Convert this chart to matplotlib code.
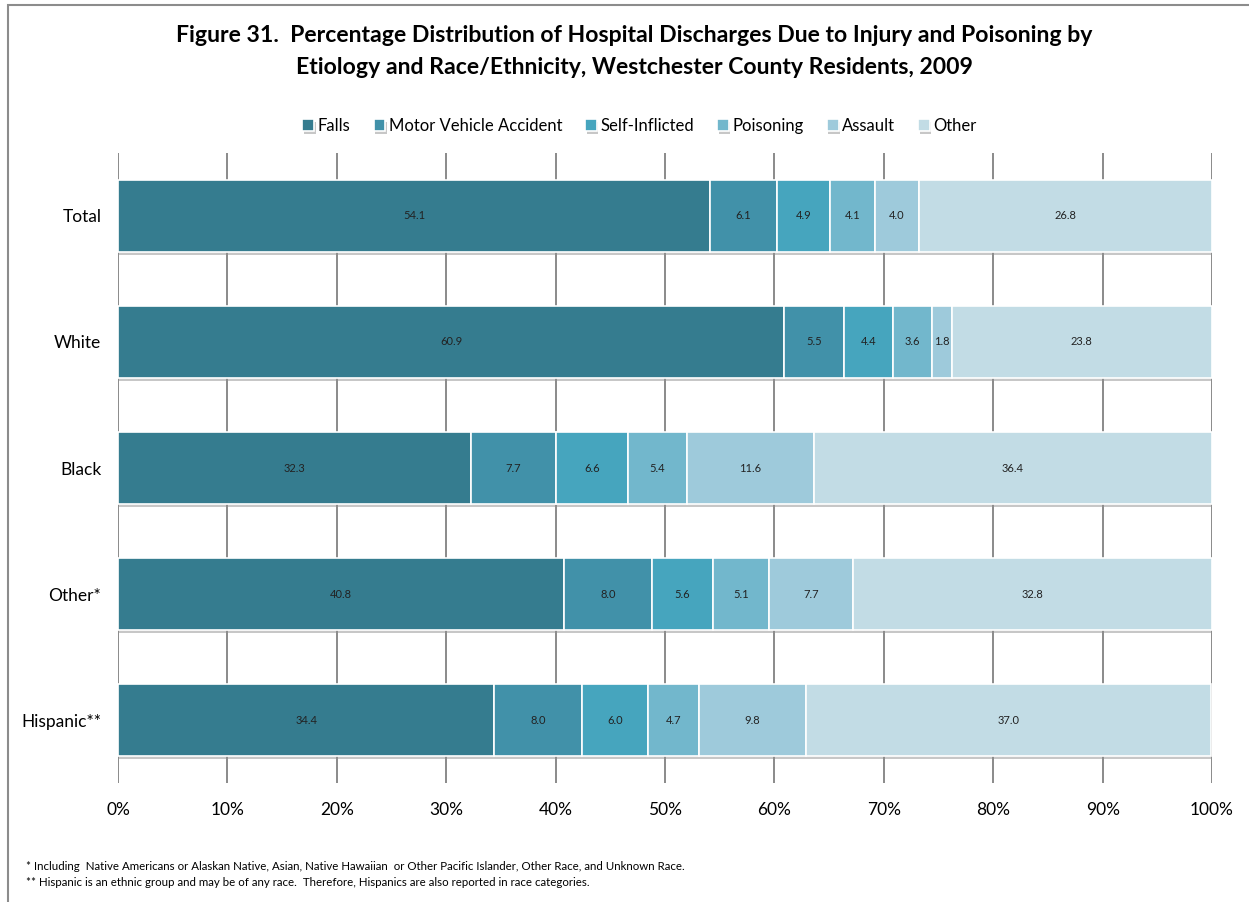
#Stacked horizontal bar chart of injury hospital discharges by etiology and race/ethnicity
import numpy as np
import matplotlib.pyplot as plt
import matplotlib.patheffects as pe
from matplotlib.patches import Rectangle

plt.rcParams['font.family'] = ['Lato', 'DejaVu Sans']

groups = ['Total', 'White', 'Black', 'Other*', 'Hispanic**']
causes = ['Falls', 'Motor Vehicle Accident', 'Self-Inflicted', 'Poisoning', 'Assault', 'Other']

falls = [54.1, 60.9, 32.3, 40.8, 34.4]
motor = [6.1, 5.5, 7.7, 8.0, 8.0]
self_inf = [4.9, 4.4, 6.6, 5.6, 6.0]
poison = [4.1, 3.6, 5.4, 5.1, 4.7]
assault = [4.0, 1.8, 11.6, 7.7, 9.8]
other = [26.8, 23.8, 36.4, 32.8, 37.0]

colors = ['#357c8f', '#4191a9', '#46a5be', '#72b7cc', '#9ecadb', '#c2dce5']

fig = plt.figure(figsize=(12.49, 9.02), dpi=100)
ax = fig.add_axes([0.0945, 0.1319, 0.8759, 0.6985])

# frame around the chart area (left and top only are visible)
fig.add_artist(Rectangle((8/1249, -0.01), 1.1, 1 - 5/902 + 0.01, transform=fig.transFigure,
                         fill=False, edgecolor='#8c8c8c', linewidth=1.5))

y = np.arange(len(groups))
left = np.zeros(len(groups))
series = [falls, motor, self_inf, poison, assault, other]
for name, vals, col in zip(causes, series, colors):
    vals = np.array(vals)
    bars = ax.barh(y, vals, left=left, height=0.57, color=col, edgecolor='white',
                   linewidth=1.2, label=name, zorder=3)
    for b in bars:
        b.set_path_effects([pe.SimplePatchShadow(offset=(1, -2), shadow_rgbFace='#909090', alpha=0.5),
                            pe.Normal()])
    for yi, l, v in zip(y, left, vals):
        ax.text(l + v / 2, yi, f'{v:.1f}', ha='center', va='center', fontsize=8,
                color='#222222', zorder=4)
    left += vals

ax.set_xlim(0, 100)
ax.set_ylim(len(groups) - 0.5, -0.5)
ax.set_xticks(np.arange(0, 101, 10))
ax.set_xticklabels([f'{t}%' for t in range(0, 101, 10)], fontsize=12.5)
ax.set_yticks(y)
ax.set_yticklabels(groups, fontsize=12.5)
ax.tick_params(axis='both', length=0, pad=14)
ax.tick_params(axis='y', pad=12)
ax.xaxis.grid(True, color='#8a8a8a', linewidth=1.4, zorder=0)
ax.set_axisbelow(True)
for s in ax.spines.values():
    s.set_visible(False)

fig.text(0.508, 1 - 35/902, 'Figure 31.  Percentage Distribution of Hospital Discharges Due to Injury and Poisoning by',
         ha='center', va='center', fontsize=16.6, fontweight='bold')
fig.text(0.508, 1 - 67/902, 'Etiology and Race/Ethnicity, Westchester County Residents, 2009',
         ha='center', va='center', fontsize=16.6, fontweight='bold')

fig.legend(loc='center', bbox_to_anchor=(0.512, 1 - 126/902), ncol=6, frameon=False,
           fontsize=12, handlelength=0.7, handleheight=0.7, handletextpad=0.2, columnspacing=1.4)

fig.text(26/1249, 1 - 866/902, '* Including  Native Americans or Alaskan Native, Asian, Native Hawaiian  or Other Pacific Islander, Other Race, and Unknown Race.',
         ha='left', va='center', fontsize=8.3)
fig.text(26/1249, 1 - 883/902, '** Hispanic is an ethnic group and may be of any race.  Therefore, Hispanics are also reported in race categories.',
         ha='left', va='center', fontsize=8.3)

fig.savefig('out.png', dpi=100)
